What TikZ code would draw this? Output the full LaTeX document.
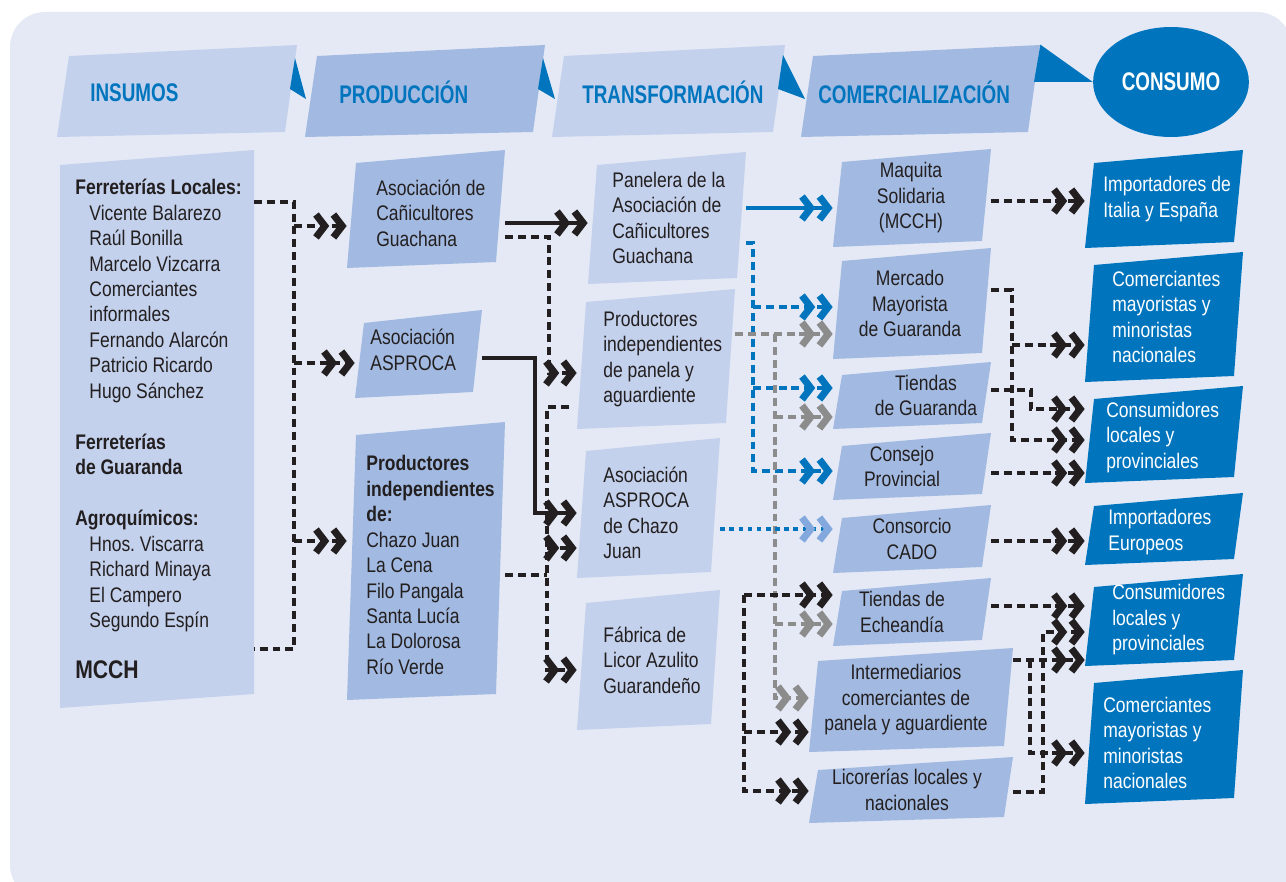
\documentclass[tikz,border=0pt]{standalone}
\usepackage{fontspec}
\setmainfont[FakeStretch=0.83]{Liberation Sans}
\newfontfamily\headfont[FakeStretch=0.74]{Liberation Sans}
\usetikzlibrary{arrows.meta,shapes.geometric}

\definecolor{panelbg}{RGB}{228,233,245}
\definecolor{pale}{RGB}{195,209,236}
\definecolor{deep}{RGB}{162,186,225}
\definecolor{ocean}{RGB}{0,117,190}
\definecolor{ink}{RGB}{35,31,32}
\definecolor{ash}{RGB}{140,140,140}
\definecolor{sky}{RGB}{130,168,222}

\tikzset{
  slabbox/.style={inner sep=0pt},
  slabtext/.style={inner sep=0pt,anchor=west,align=left,text=ink,font=\fontsize{12}{14.5}\selectfont},
  headtext/.style={text=ocean,font=\headfont\bfseries\fontsize{14.5}{16}\selectfont},
  midtext/.style={anchor=center,align=center},
  whitetext/.style={text=white},
  link/.style={draw=ink,line width=1.9pt,dash pattern=on 4.5pt off 2.8pt},
  bluelink/.style={link,draw=ocean},
  graylink/.style={link,draw=ash},
  cadolink/.style={draw=ocean,line width=2.4pt,dash pattern=on 2.6pt off 2.6pt},
  solidlink/.style={draw=ink,line width=1.9pt},
  bluesolid/.style={draw=ocean,line width=1.9pt},
  chev/.style={-{Straight Barb[length=5pt,width=13pt,line width=4pt,sep=0.4pt,#1]Straight Barb[length=5pt,width=13pt,line width=4pt,#1]}},
  chev/.default={}
}

% slanted box: name, fill, x1, y1, x2, y2, text x, text options, text
\newcommand{\slabdx}{9}
\newcommand{\slabtop}{13}
\newcommand{\slabbot}{6}
\newcommand{\slab}[9]{%
  \fill[#2] (#3+\slabdx,#4+\slabtop) -- (#5,#4) -- (#5-\slabdx,#6-\slabbot) -- (#3,#6) -- cycle;
  \node[slabbox,minimum width={(#5-#3)*0.02cm},minimum height={(#6-#4)*0.02cm}] (#1) at ({(#3+#5)/2},{(#4+#6)/2}) {};
  \node[slabtext,#8] (#1t) at (#7,{(#4+#6)/2}) {#9};%
}
\newcommand{\ind}{\hspace*{8pt}}

\begin{document}
\begin{tikzpicture}[x=0.02cm,y=-0.02cm]
  \useasboundingbox (0,0) rectangle (1286,882);
  \fill[white] (0,0) rectangle (1286,882);
  \fill[panelbg,rounded corners=0.7cm] (10,12) rectangle (1292,900);

  % stages
  \renewcommand{\slabdx}{12}\renewcommand{\slabtop}{11}\renewcommand{\slabbot}{5}
  \slab{hins}{pale}{57}{45}{297}{137}{90}{headtext,yshift=-0.03cm}{INSUMOS}
  \slab{hpro}{deep}{305}{45}{545}{137}{339}{headtext,yshift=-0.03cm}{PRODUCCIÓN}
  \slab{htra}{pale}{552}{45}{785}{137}{582}{headtext,yshift=-0.03cm}{TRANSFORMACIÓN}
  \slab{hcom}{deep}{801}{45}{1040}{137}{818}{headtext,yshift=-0.03cm}{COMERCIALIZACIÓN}
  \node[ellipse,fill=ocean,text=white,minimum width=3cm,minimum height=2.2cm,
    font=\headfont\bfseries\fontsize{14.5}{16}\selectfont] (consumo) at (1171,82) {\raisebox{-0.08cm}{CONSUMO}};
  \fill[ocean] (295,58) -- (290,89) -- (306,99) -- cycle;
  \fill[ocean] (543,58) -- (538,89) -- (555,99) -- cycle;
  \fill[ocean] (783,55) -- (778,89) -- (805,99) -- cycle;
  \fill[ocean] (hcom.north east) -- (consumo.west) -- (1034,82) -- cycle;

  % insumos
  \renewcommand{\slabdx}{0}\renewcommand{\slabtop}{15}\renewcommand{\slabbot}{14}
  \slab{ins}{pale}{60}{150}{254}{708}{75}{}{\textbf{Ferreterías Locales:}\\
    \ind Vicente Balarezo\\ \ind Raúl Bonilla\\ \ind Marcelo Vizcarra\\
    \ind Comerciantes\\ \ind informales\\ \ind Fernando Alarcón\\
    \ind Patricio Ricardo\\ \ind Hugo Sánchez\\[14.5pt]
    \textbf{Ferreterías}\\ \textbf{de Guaranda}\\[14.5pt]
    \textbf{Agroquímicos:}\\ \ind Hnos.\ Viscarra\\ \ind Richard Minaya\\
    \ind El Campero\\ \ind Segundo Espín\\[14.5pt]
    {\fontsize{14.5}{14.5}\selectfont\bfseries MCCH}}
  \renewcommand{\slabdx}{9}\renewcommand{\slabtop}{13}\renewcommand{\slabbot}{6}

  % produccion
  \slab{asocg}{deep}{347}{150}{505}{268}{376}{yshift=-0.08cm}{Asociación de\\Cañicultores\\Guachana}
  \slab{aspro}{deep}{355}{310}{482}{398}{370}{yshift=0.08cm}{Asociación\\ASPROCA}
  \slab{prodi}{deep}{347}{422}{505}{700}{366}{yshift=-0.08cm}{\textbf{Productores}\\\textbf{independientes}\\\textbf{de:}\\
    Chazo Juan\\La Cena\\Filo Pangala\\Santa Lucía\\La Dolorosa\\Río Verde}

  % transformacion
  \slab{panel}{pale}{588}{152}{746}{284}{612}{}{Panelera de la\\Asociación de\\Cañicultores\\Guachana}
  \slab{prodp}{pale}{577}{289}{735}{429}{603}{}{Productores\\independientes\\de panela y\\aguardiente}
  \slab{asch}{pale}{577}{438}{720}{578}{603}{yshift=-0.1cm}{Asociación\\ASPROCA\\de Chazo\\Juan}
  \slab{fab}{pale}{577}{590}{720}{730}{603}{}{Fábrica de\\Licor Azulito\\Guarandeño}

  % comercializacion
  \slab{maq}{deep}{833}{149}{991}{247}{911}{midtext}{Maquita\\Solidaria\\(MCCH)}
  \slab{merc}{deep}{833}{248}{991}{359}{910}{midtext}{Mercado\\Mayorista\\de Guaranda}
  \slab{tgu}{deep}{833}{362}{991}{429}{926}{midtext}{Tiendas\\de Guaranda}
  \slab{cons}{deep}{833}{433}{991}{500}{902}{midtext}{Consejo\\Provincial}
  \slab{cado}{deep}{833}{505}{991}{573}{912}{midtext}{Consorcio\\CADO}
  \slab{tech}{deep}{833}{578}{991}{646}{902}{midtext}{Tiendas de\\Echeandía}
  \slab{inter}{deep}{809}{648}{1013}{752}{906}{midtext}{Intermediarios\\comerciantes de\\panela y aguardiente}
  \slab{lic}{deep}{809}{757}{1013}{823}{907}{midtext}{Licorerías locales y\\nacionales}

  % consumo
  \slab{imp1}{ocean}{1085}{150}{1243}{248}{1103}{whitetext}{Importadores de\\Italia y España}
  \slab{com1}{ocean}{1085}{252}{1243}{382}{1112}{whitetext}{Comerciantes\\mayoristas y\\minoristas\\nacionales}
  \slab{cons1}{ocean}{1085}{386}{1243}{483}{1106}{whitetext,yshift=-0.06cm}{Consumidores\\locales y\\provinciales}
  \slab{impe}{ocean}{1085}{493}{1243}{565}{1108}{whitetext,yshift=-0.06cm}{Importadores\\Europeos}
  \slab{cons2}{ocean}{1085}{574}{1243}{666}{1112}{whitetext}{Consumidores\\locales y\\provinciales}
  \slab{com2}{ocean}{1085}{670}{1243}{804}{1103}{whitetext,yshift=-0.12cm}{Comerciantes\\mayoristas y\\minoristas\\nacionales}

  % insumos -> produccion
  \coordinate (insbus) at (294,202);
  \draw[link] (ins.east |- insbus) -- (insbus) -- (insbus |- 0,649) -- (ins.east |- 0,649);
  \draw[link,chev] (insbus |- 0,226) -- (asocg.west |- 0,226);
  \draw[link,chev] (insbus |- 0,363) -- (aspro.west |- 0,363);
  \draw[link,chev] (insbus |- 0,541) -- (prodi.west |- 0,541);

  % produccion -> transformacion
  \draw[solidlink,chev] (asocg.east |- 0,223) -- (panel.west |- 0,223);
  \coordinate (canbus) at (549,237);
  \draw[link,chev] (asocg.east |- canbus) -- (canbus) |- (prodp.west |- 0,373);
  \coordinate (aspbus) at (535,358);
  \draw[solidlink,chev] (aspro.east |- aspbus) -- (aspbus) |- (asch.west |- 0,513);
  \coordinate (prodbus) at (547,575);
  \draw[link] (prodi.east |- prodbus) -- (prodbus);
  \draw[link,chev,shorten <=0.16cm] (prodp.west |- 0,407) -- (prodbus |- 0,407) |- (fab.west |- 0,670);
  \draw[link,chev] (prodbus |- 0,548) -- (asch.west |- 0,548);

  % transformacion -> comercializacion
  \draw[bluesolid,chev] (panel.east |- 0,208) -- (maq.west |- 0,208);
  \coordinate (panbus) at (753,243);
  \draw[bluelink,chev] (panel.east |- panbus) -- (panbus) |- (cons.west |- 0,471);
  \draw[bluelink,chev] (panbus |- 0,307) -- (merc.west |- 0,307);
  \draw[bluelink,chev] (panbus |- 0,388) -- (tgu.west |- 0,388);
  \coordinate (grisbus) at (775,334);
  \draw[graylink,chev] (prodp.east |- grisbus) -- (merc.west |- grisbus);
  \draw[graylink,chev] (grisbus) |- (inter.west |- 0,698);
  \draw[graylink,chev] (grisbus |- 0,417) -- (tgu.west |- 0,417);
  \draw[graylink,chev] (grisbus |- 0,624) -- (tech.west |- 0,624);
  \draw[cadolink,chev={color=sky}] (asch.east |- 0,529) -- (cado.west |- 0,529);
  \coordinate (fabbus) at (744,595);
  \draw[link,chev] (fabbus) -- (tech.west |- fabbus);
  \draw[link,chev] (fabbus) |- (lic.west |- 0,791);
  \draw[link,chev] (fabbus |- 0,732) -- (inter.west |- 0,732);

  % comercializacion -> consumo
  \draw[link,chev] (maq.east |- 0,201) -- (imp1.west |- 0,201);
  \coordinate (mercbus) at (1012,290);
  \draw[link,chev] (merc.east |- mercbus) -- (mercbus) |- (cons1.west |- 0,440);
  \draw[link,chev] (mercbus |- 0,345) -- (com1.west |- 0,345);
  \coordinate (tienbus) at (1031,390);
  \draw[link,chev] (tgu.east |- tienbus) -- (tienbus) |- (cons1.west |- 0,409);
  \draw[link,chev] (cons.east |- 0,473) -- (cons1.west |- 0,473);
  \draw[link,chev] (cado.east |- 0,541) -- (impe.west |- 0,541);
  \draw[link,chev] (tech.east |- 0,606) -- (cons2.west |- 0,606);
  \coordinate (intbus) at (1030,660);
  \draw[link,chev] (inter.east |- intbus) -- (cons2.west |- intbus);
  \draw[link,chev] (intbus) |- (com2.west |- 0,753);
  \coordinate (licbus) at (1043,792);
  \draw[link,chev] (lic.east |- licbus) -- (licbus) |- (cons2.west |- 0,632);
\end{tikzpicture}
\end{document}
